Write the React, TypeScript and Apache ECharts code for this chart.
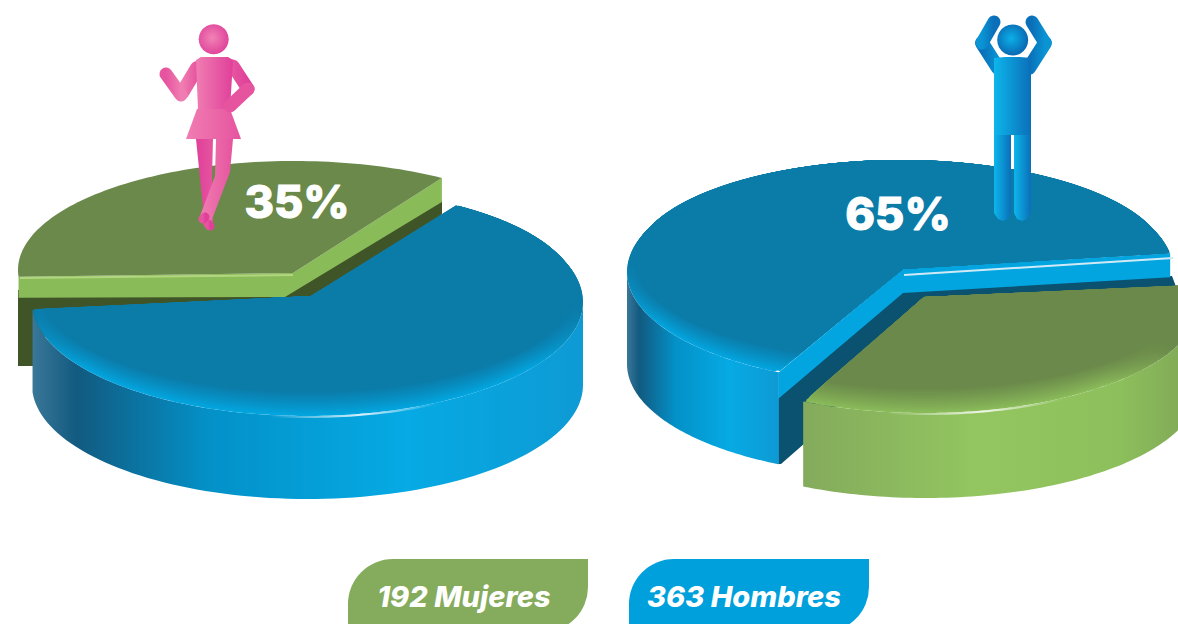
import React, { useEffect, useRef } from "react";
import * as echarts from "echarts";

// ---- data ----
const sliceNames = ["Mujeres", "Hombres"];
const slicePercents = [35, 65];
const sliceCounts = [192, 363];

const FONT = "Inter, 'Open Sans', sans-serif";
const LG = echarts.graphic.LinearGradient;
const RG = echarts.graphic.RadialGradient;
type P = [number, number];
const rad = (d: number) => (d * Math.PI) / 180;

const BLUE = { dark: "#0b7ba8", light: "#02a5e0", side: [[0, "#3a7798"], [0.08, "#125a80"], [0.32, "#0391c8"], [0.68, "#06aae4"], [1, "#0e9ad4"]], wall: "#0b5271" };
const GREEN = { dark: "#6a894a", light: "#8abb59", side: [[0, "#84ab5c"], [0.45, "#93c660"], [0.8, "#8dbf5c"], [1, "#7ea556"]], wall: "#3f5527" };

const pt = (e: any, t: number): P => [e.cx + e.rx * Math.cos(rad(t)), e.cy - e.ry * Math.sin(rad(t))];
const arc = (e: any, t0: number, t1: number, n = 90): P[] => {
  const out: P[] = [];
  for (let i = 0; i <= n; i++) out.push(pt(e, t0 + ((t1 - t0) * i) / n));
  return out;
};
const mix = (a: string, b: string, f: number) => {
  const h = (s: string, i: number) => parseInt(s.slice(1 + i * 2, 3 + i * 2), 16);
  return "rgb(" + [0, 1, 2].map((i) => Math.round(h(a, i) + (h(b, i) - h(a, i)) * f)).join(",") + ")";
};
const polar = (o: P, p: P) => (Math.atan2(o[1] - p[1], p[0] - o[0]) * 180) / Math.PI;
const mod360 = (x: number) => ((x % 360) + 360) % 360;

// part of an inset ellipse that stays inside the wedge seen from the apex
function clippedArc(layer: any, base: any, apex: P, t0: number, t1: number): P[] {
  const a0 = polar(apex, pt(base, t0));
  const a1 = polar(apex, pt(base, t1));
  const span = mod360(a1 - a0);
  return arc(layer, t0 - 40, t1 + 40, 300).filter((p) => mod360(polar(apex, p) - a0) <= span);
}

// One 3D slice: every outline is computed from its value (share of 360 degrees)
function sliceElements(g: any, value: number, total: number) {
  const t0 = g.start;
  const t1 = g.start + (value / total) * 360;
  const e = g;
  const kids: any[] = [];
  const c = g.colors;
  if (g.wallOnly || (g.wallPts && !g.noWall)) {
    kids.push({ type: "polygon", shape: { points: g.wallPts }, style: { fill: c.wall } });
    if (g.wallOnly) return kids;
  }
  // outer side
  if (g.depth) {
    const a = Math.max(t0, 180);
    const b = Math.min(t1, 360);
    if (b > a) {
      const top = arc(e, a, b);
      const bottom = arc({ ...e, cy: e.cy + g.depth }, b, a);
      kids.push({
        type: "polygon",
        shape: { points: [...top, ...bottom] },
        style: { fill: new LG(0, 0, 1, 0, c.side.map((s: any) => ({ offset: s[0], color: s[1] }))) },
      });
    }
  }
  // bevel band along the cut edges
  if (g.band) {
    const A: P = g.apex;
    const R = pt(e, t0);
    const L = pt(e, t1);
    const d = g.band;
    kids.push({
      type: "polygon",
      shape: { points: [A, R, [R[0], R[1] + d], [A[0] - g.bandIn, A[1] + d], [L[0], L[1] + g.bandLow], L] },
      style: { fill: c.light },
    });
  }
  // top face with soft bevel made of inset layers
  const N = g.bevel ? 16 : 0;
  for (let i = 0; i <= N; i++) {
    const f = N ? i / N : 1;
    const shift = g.bevel * f;
    const layer = { ...e, cy: e.cy - shift / 2, ry: e.ry - shift / 2, rx: e.rx - (g.bevelX || 0) * f };
    const col = N ? mix(c.light, c.dark, Math.pow(f, 0.9)) : c.dark;
    const pts = N ? clippedArc(layer, e, g.apex, t0, t1) : arc(e, t0, t1);
    kids.push({
      type: "polygon",
      shape: { points: [g.apex, ...pts] },
      style: { fill: new LG(0, 0, 0, 1, [{ offset: 0, color: c.dark }, { offset: 0.5, color: c.dark }, { offset: 0.78, color: col }, { offset: 1, color: col }]) },
    });
  }
  // glints
  (g.glints || []).forEach((gl: any) => {
    const pts = gl.t ? arc({ ...e, cy: e.cy + 1 }, gl.t[0], gl.t[1], 30) : gl.pts;
    kids.push({
      type: "polyline",
      shape: { points: pts },
      style: {
        fill: "none",
        lineWidth: gl.w || 2,
        stroke: gl.t ? new LG(0, 0, 1, 0, [{ offset: 0, color: "rgba(255,255,255,0)" }, { offset: 0.55, color: "rgba(255,255,255,0.85)" }, { offset: 1, color: "rgba(255,255,255,0)" }]) : gl.color,
      },
    });
  });
  return kids;
}

const leftGreen = {
  cx: 294, cy: 270, rx: 276, ry: 109, depth: 0, start: 57.6, apex: [293, 273] as P, colors: GREEN, bevel: 0,
  band: 24, bandIn: 8, bandLow: 21, noWall: true,
  wallPts: [[18, 290], [18, 366], [45, 366], [45, 330], [330, 310], [442, 214], [442, 200], [295, 290]],
  glints: [{ pts: [[20, 278], [293, 275]], color: "#b2d67f", w: 2 }],
};
const leftGreenWall = { ...leftGreen, wallOnly: true };
const leftBlue = {
  cx: 307.5, cy: 302, rx: 275.5, ry: 114, depth: 83, start: 183.6, apex: [311, 296] as P, colors: BLUE, bevel: 24, bevelX: 8,
  glints: [{ t: [262, 298] }],
};
const rightBlue = {
  cx: 900.5, cy: 272, rx: 273.5, ry: 112, depth: 92, start: 9.6, apex: [903, 269] as P, colors: BLUE, bevel: 24, bevelX: 8,
  band: 24, bandIn: 0, bandLow: 26,
  wallPts: [[903, 292], [1172, 276], [1178, 292], [924, 310], [805, 443], [781, 464], [777, 464], [777, 399]],
  glints: [{ pts: [[904, 275], [1173, 258]], color: "#cfeaf6", w: 2 }],
};
const rightGreen = {
  cx: 925, cy: 303, rx: 274, ry: 110, depth: 85, start: 243.6, apex: [924, 297] as P, colors: GREEN, bevel: 24, bevelX: 8,
  glints: [{ t: [262, 300] }],
};

const total = slicePercents.reduce((a, b) => a + b, 0);

const pieSeries = (g: any, idx: number) => ({
  type: "custom",
  coordinateSystem: "none",
  silent: true,
  name: sliceNames[idx],
  data: [slicePercents[idx]],
  renderItem: (_p: any, api: any) => ({ type: "group", children: sliceElements(g, api.value(0), total) }),
});

const limb = (pts: number[][], w: number, a: string, b: string) => ({
  type: "polyline",
  shape: { points: pts },
  style: { fill: "none", lineWidth: w, lineCap: "round", lineJoin: "round", stroke: new LG(0, 0, 1, 0, [{ offset: 0, color: a }, { offset: 1, color: b }]) },
});
const body = (pts: number[][], a: string, b: string) => ({
  type: "polygon",
  shape: { points: pts },
  style: { fill: new LG(0, 0, 1, 0, [{ offset: 0, color: a }, { offset: 1, color: b }]) },
});
const head = (cx: number, cy: number, r: number, a: string, b: string) => ({
  type: "circle",
  shape: { cx, cy, r },
  style: { fill: new RG(0.45, 0.45, 0.6, [{ offset: 0, color: a }, { offset: 1, color: b }]) },
});

const P1 = "#f07db2", P2 = "#e0409a", P3 = "#e6549f";
const woman = [
  head(213.7, 39.3, 15, "#f183b6", "#df3f99"),
  limb([[197, 68], [182, 93]], 14, P1, P3),
  limb([[233, 66], [248, 89]], 13, P3, P2),
  limb([[166, 74], [181, 95]], 13, P3, P1),
  body([[196, 60], [201, 57], [228, 57], [233, 60], [230, 110], [198, 110]], P1, P2),
  body([[197, 109], [230, 109], [241, 139], [186, 139]], P1, P3),
  limb([[248, 89], [230, 106]], 13, P3, P3),
  body([[196, 139], [213, 139], [212, 178], [213, 226], [205, 226], [200, 178]], P2, P3),
  body([[216, 139], [233, 139], [230, 172], [211, 222], [200, 216], [215, 176]], P1, P3),
  limb([[208, 224], [210, 226]], 9, P3, P2),
  limb([[205, 217], [203, 219]], 9, P3, P2),
];

const M1 = "#0db6ec", M2 = "#0a6fb8", M3 = "#0a94d4";
const man = [
  limb([[998, 68], [982, 43]], 14, M2, M3),
  limb([[1029, 68], [1045, 43]], 14, M2, M3),
  limb([[982, 43], [994, 22]], 13, M3, M2),
  limb([[1045, 43], [1032, 22]], 13, M2, M3),
  head(1012.7, 40, 15.5, "#0bb0e8", "#0a62ae"),
  body([[994, 58], [1005, 57], [1020, 57], [1031, 58], [1031, 135], [994, 135]], M1, M2),
  body([[994, 135], [1011, 135], [1011, 213], [1008, 219], [1003, 221], [998, 219], [994, 213]], M1, M2),
  body([[1014, 135], [1031, 135], [1031, 213], [1027, 219], [1022, 221], [1017, 219], [1014, 213]], M1, M2),
];

const pctText = (v: number, x: number, y: number) => ({
  type: "text",
  style: { text: v + "%", x, y, fill: "#fff", stroke: "#fff", lineWidth: 1, font: `800 45px ${FONT}`, textAlign: "center", textVerticalAlign: "middle" },
});

const legendEls = (idx: number, x: number, fill: string, textX: number) => [
  { type: "rect", shape: { x, y: 559, width: 240, height: 73, r: [45, 0, 45, 0] }, style: { fill } },
  {
    type: "text",
    style: {
      text: `${sliceCounts[idx]} ${sliceNames[idx]}`,
      x: textX, y: 596, fill: "#fff", font: `italic 800 29px ${FONT}`, textAlign: "center", textVerticalAlign: "middle",
    },
  },
];

export default function App() {
  const ref = useRef<HTMLDivElement>(null);
  useEffect(() => {
    document.body.style.margin = "0";
    document.body.style.overflow = "hidden";
    const chart = echarts.init(ref.current!, null, { renderer: "svg" });
    chart.setOption({
      animation: false,
      backgroundColor: "#ffffff",
      series: [
        pieSeries(leftGreenWall, 0),
        pieSeries(leftBlue, 1),
        pieSeries(leftGreen, 0),
        pieSeries(rightBlue, 1),
        pieSeries(rightGreen, 0),
        {
          type: "custom",
          coordinateSystem: "none",
          silent: true,
          data: [slicePercents[0]],
          renderItem: () => ({
            type: "group",
            children: [
              ...woman,
              ...man,
              pctText(slicePercents[0], 297, 201),
              pctText(slicePercents[1], 898, 213),
              ...legendEls(0, 348, "#85ab5c", 464),
              ...legendEls(1, 629, "#00a0dc", 744),
            ],
          }),
        },
      ],
    });
    return () => chart.dispose();
  }, []);
  return <div ref={ref} style={{ position: "absolute", left: 0, top: 0, width: 1178, height: 624 }} />;
}
